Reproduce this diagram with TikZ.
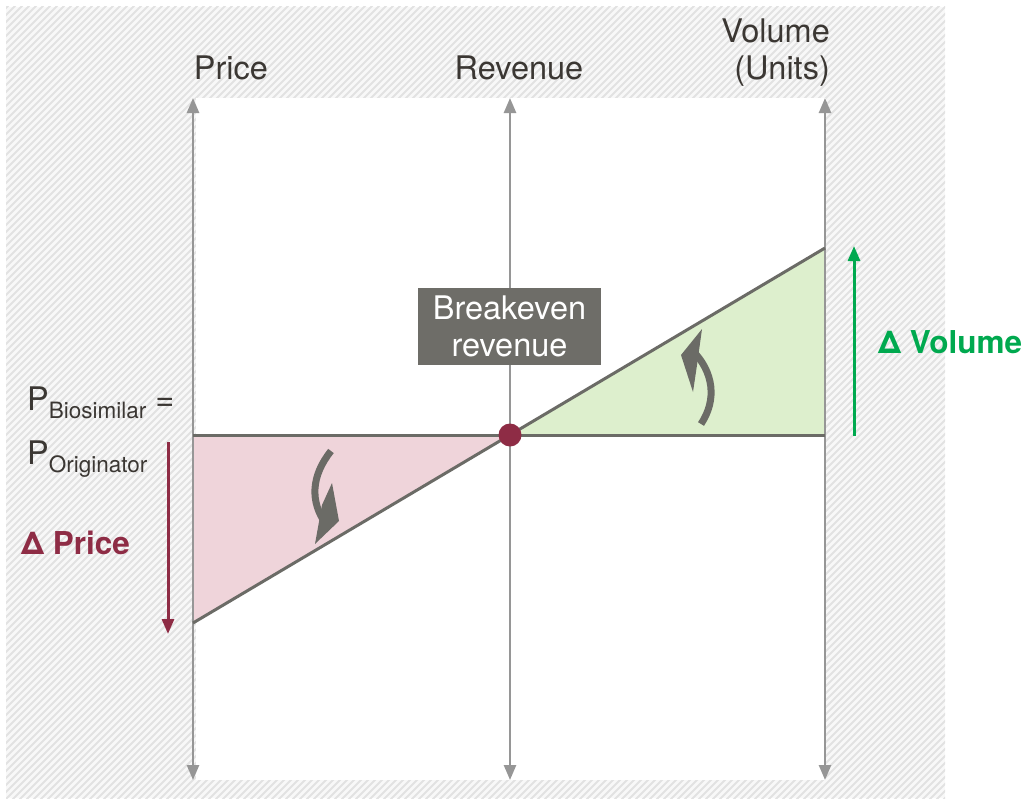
\documentclass[tikz,border=0pt]{standalone}
\usepackage{fontspec}
\setmainfont{TeX Gyre Heros}
\usetikzlibrary{arrows.meta}
\definecolor{axisgrey}{HTML}{969696}
\definecolor{linegrey}{HTML}{6B6B66}
\definecolor{pinkfill}{HTML}{EFD4DA}
\definecolor{greenfill}{HTML}{DDEFCD}
\definecolor{dotred}{HTML}{8E2C45}
\definecolor{boxgrey}{HTML}{6E6D68}
\definecolor{txt}{HTML}{3B3733}
\definecolor{hatchbg}{HTML}{F8F8F8}
\definecolor{hatchln}{HTML}{E2E2E2}
\definecolor{vgreen}{HTML}{00A94F}
\tikzset{
  axisline/.style={draw=axisgrey, line width=2.5pt, {Triangle[width=12pt,length=15pt]}-{Triangle[width=12pt,length=15pt]}},
  mainline/.style={draw=linegrey, line width=3pt},
  lbl/.style={text=txt, font=\fontsize{32.5pt}{38pt}\selectfont, inner sep=0pt},
  deltalbl/.style={font=\fontsize{31.5pt}{36pt}\selectfont\bfseries, inner sep=0pt},
  curvarrow/.style={draw=linegrey, line width=7pt},
  headfill/.style={fill=linegrey},
}
\begin{document}
\begin{tikzpicture}[x=1pt,y=-1pt]
\useasboundingbox (0,0) rectangle (1025,800);
% hatched background
\begin{scope}
\clip (6,7) rectangle (945,798);
\fill[hatchbg] (6,7) rectangle (945,798);
\foreach \k in {-800,-793,...,1030} \draw[hatchln, line width=1.8pt] (\k,800) -- ({\k+800},0);
\end{scope}
\fill[white] (196,98) rectangle (826,780);
% triangles
\fill[pinkfill] (193,435) -- (510,435) -- (193,623) -- cycle;
\fill[greenfill] (510,435) -- (825,435) -- (825,248) -- cycle;
% axes
\coordinate (ptop) at (193,98);
\coordinate (pbot) at (193,780);
\coordinate (rtop) at (510,98);
\coordinate (rbot) at (510,780);
\coordinate (vtop) at (825,98);
\coordinate (vbot) at (825,780);
\draw[axisline] (pbot) -- (ptop);
\draw[axisline] (rbot) -- (rtop);
\draw[axisline] (vbot) -- (vtop);
% main lines
\coordinate (hl) at (193,435);
\coordinate (hr) at (825,435);
\coordinate (dl) at (193,623);
\coordinate (dr) at (825,248);
\draw[mainline] (hl) -- (hr);
\draw[mainline] (dl) -- (dr);
% breakeven dot and box
\node[circle, fill=dotred, minimum size=23pt, inner sep=0pt] (be) at (510,435) {};
\node[fill=boxgrey, text=white, minimum width=183pt, minimum height=77pt, inner sep=0pt, align=center,
      font=\fontsize{32.5pt}{37pt}\selectfont] (bbox) at (509.5,326.5) {Breakeven\\revenue};
% curved arrows
\draw[curvarrow] (331,451) .. controls (311,476) and (310,502) .. (326,524);
\fill[headfill] (332,483) -- (339,521) -- (315,544) -- (322,505) -- cycle;
\draw[curvarrow] (701,424) .. controls (717,400) and (714,372) .. (692,350);
\fill[headfill] (702,329) -- (681,355) -- (693,392) -- (697,365) -- cycle;
% delta arrows
\coordinate (pa1) at (168,442);
\coordinate (pa2) at (168,634);
\draw[draw=dotred, line width=3pt, -{Triangle[width=12pt,length=15pt]}] (pa1) -- (pa2);
\coordinate (va1) at (854,436);
\coordinate (va2) at (854,246);
\draw[draw=vgreen, line width=3pt, -{Triangle[width=12pt,length=15pt]}] (va1) -- (va2);
% labels
\node[lbl, anchor=base] (lprice) at (231,80) {Price};
\node[lbl, anchor=base] (lrev) at (519,80) {Revenue};
\node[lbl, anchor=base east] (lvol1) at (830,43) {Volume};
\node[lbl, anchor=base east] (lvol2) at (830,80) {(Units)};
\node[deltalbl, text=dotred, anchor=base west] (dprice) at (21,554) {Δ Price};
\node[deltalbl, text=vgreen, anchor=base west] (dvol) at (878,353) {Δ Volume};
\node[lbl, anchor=base west] (pbio) at (27,410) {P{\fontsize{22.5pt}{26pt}\selectfont\raisebox{-8pt}{Biosimilar}} =};
\node[lbl, anchor=base west] (porig) at (27,464) {P{\fontsize{22.5pt}{26pt}\selectfont\raisebox{-8pt}{Originator}}};
\end{tikzpicture}
\end{document}
